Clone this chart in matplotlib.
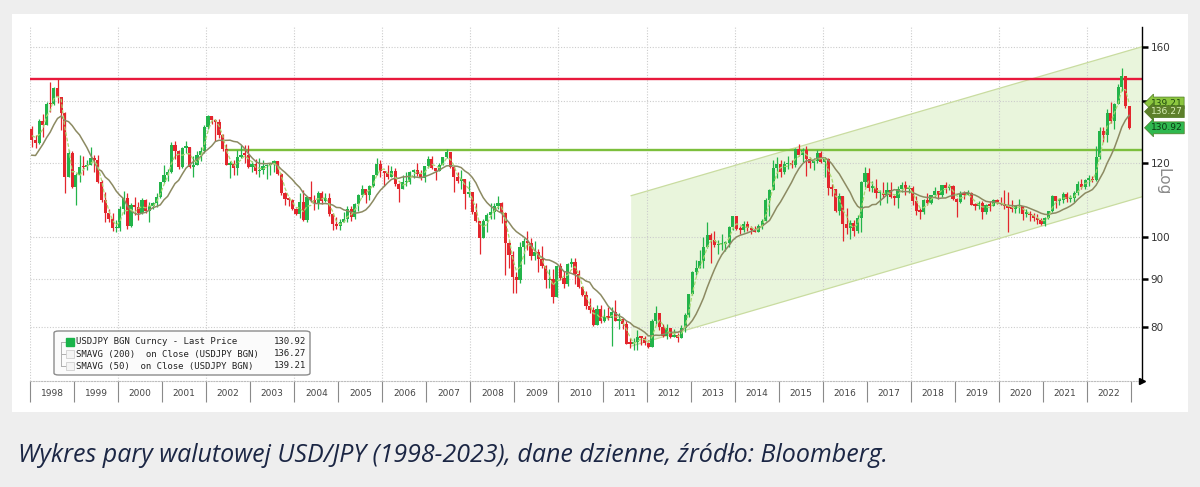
import numpy as np
import pandas as pd
import matplotlib
matplotlib.use("Agg")
import matplotlib.pyplot as plt
import matplotlib.transforms as mtransforms
from matplotlib.patches import Rectangle, FancyBboxPatch, Polygon
from matplotlib.ticker import FixedLocator, NullLocator, NullFormatter

# USD/JPY monthly candles Jan 1998 - Dec 2022
# Apr-Dec 1997 closes only warm up the moving averages
closes_1997 = [126.9, 116.4, 114.6, 118.4, 121.0, 120.5, 120.5, 127.6, 130.6]

closes = [
    127.0, 126.0, 133.3, 132.0, 138.9, 138.8, 144.5, 141.2, 135.7, 116.0, 123.1, 113.1,  # 1998
    116.4, 118.9, 118.8, 119.4, 121.5, 121.0, 114.6, 109.5, 106.0, 104.4, 102.1, 102.2,  # 1999
    107.2, 110.2, 102.7, 108.1, 107.6, 106.1, 109.5, 106.6, 107.9, 108.8, 110.4, 114.4,  # 2000
    116.4, 117.4, 125.5, 123.6, 118.8, 124.6, 124.9, 118.9, 119.4, 122.3, 123.6, 131.1,  # 2001
    134.7, 133.5, 132.7, 128.5, 124.2, 119.4, 119.8, 118.4, 121.9, 122.5, 122.4, 118.8,  # 2002
    119.8, 117.6, 118.1, 119.0, 119.5, 119.8, 120.5, 116.8, 111.5, 109.9, 109.6, 107.2,  # 2003
    105.8, 109.0, 104.2, 110.4, 109.5, 108.8, 111.3, 109.3, 110.2, 105.8, 103.1, 102.6,  # 2004
    103.6, 104.6, 107.2, 105.0, 108.5, 110.8, 112.5, 111.0, 113.4, 116.4, 119.8, 117.8,  # 2005
    117.2, 115.8, 117.8, 114.0, 112.6, 114.4, 114.6, 117.3, 118.1, 116.9, 115.7, 119.0,  # 2006
    121.3, 118.5, 117.8, 119.5, 121.7, 123.2, 118.7, 115.8, 114.8, 115.3, 111.2, 111.7,  # 2007
    106.4, 103.9, 99.7, 104.0, 105.5, 106.2, 108.0, 108.8, 106.0, 98.5, 95.5, 90.6,      # 2008
    89.9, 97.6, 98.9, 98.5, 95.3, 96.4, 94.7, 93.0, 89.8, 90.0, 86.2, 93.0,              # 2009
    90.3, 89.0, 93.5, 94.0, 91.2, 88.4, 86.5, 84.2, 83.5, 80.4, 83.7, 81.1,              # 2010
    82.0, 81.8, 83.1, 81.2, 81.5, 80.5, 76.8, 76.7, 77.0, 78.0, 77.9, 76.9,              # 2011
    76.2, 81.2, 82.9, 80.0, 78.3, 79.8, 78.1, 78.4, 77.9, 79.8, 82.5, 86.7,              # 2012
    91.7, 92.6, 94.2, 97.4, 100.4, 99.1, 97.9, 98.2, 98.3, 98.4, 102.4, 105.3,           # 2013
    102.0, 101.8, 103.2, 102.2, 101.8, 101.3, 102.8, 104.1, 109.6, 112.3, 118.6, 119.8,  # 2014
    117.5, 119.6, 120.1, 119.4, 124.1, 122.4, 123.9, 121.2, 119.9, 120.6, 123.1, 120.2,  # 2015
    121.1, 112.7, 112.6, 106.5, 110.7, 103.2, 102.1, 103.4, 101.4, 104.8, 114.5, 117.0,  # 2016
    112.8, 112.8, 111.4, 111.5, 110.8, 112.4, 110.3, 110.2, 112.5, 113.7, 112.5, 112.7,  # 2017
    109.2, 106.7, 106.3, 109.4, 108.8, 110.8, 111.9, 111.0, 113.7, 112.9, 113.5, 109.7,  # 2018
    108.9, 111.4, 110.9, 111.4, 108.3, 107.9, 108.7, 106.3, 108.1, 108.0, 109.5, 108.6,  # 2019
    108.4, 107.9, 107.5, 107.2, 107.8, 107.9, 105.8, 105.9, 105.5, 104.7, 104.3, 103.3,  # 2020
    104.7, 106.6, 110.7, 109.3, 109.6, 111.1, 109.7, 110.0, 111.3, 113.9, 113.2, 115.1,  # 2021
    115.1, 115.0, 121.7, 129.8, 128.7, 135.7, 133.3, 138.9, 144.7, 148.7, 138.1, 130.92, # 2022
]

highs = [
    131.5, 128.5, 133.9, 135.5, 139.5, 146.8, 144.9, 147.6, 139.6, 136.2, 123.8, 123.6,
    117.0, 122.5, 122.2, 120.8, 124.8, 122.5, 122.3, 115.2, 111.6, 107.0, 106.0, 104.3,
    107.9, 112.1, 111.3, 108.7, 110.4, 108.9, 110.1, 109.8, 109.0, 109.0, 111.4, 114.6,
    119.4, 118.2, 126.5, 126.8, 124.0, 124.8, 126.8, 124.9, 122.2, 123.7, 124.8, 131.7,
    135.2, 134.5, 133.8, 133.9, 128.9, 125.9, 120.5, 121.0, 124.0, 125.6, 125.5, 125.4,
    120.7, 121.3, 121.4, 120.9, 119.6, 119.9, 120.9, 120.7, 117.1, 111.7, 110.4, 109.9,
    107.3, 111.4, 112.2, 110.6, 114.9, 111.0, 111.9, 112.1, 111.3, 111.5, 106.0, 105.0,
    104.5, 106.2, 107.9, 108.0, 108.8, 111.2, 113.7, 112.1, 113.7, 116.6, 121.4, 121.0,
    117.8, 119.4, 119.0, 118.5, 114.2, 116.5, 117.3, 117.7, 118.3, 119.9, 118.1, 119.2,
    122.2, 122.2, 118.4, 120.1, 121.9, 124.1, 123.0, 119.0, 117.3, 117.9, 115.4, 114.7,
    109.7, 108.6, 103.6, 104.6, 106.0, 108.6, 108.6, 110.7, 109.0, 106.4, 99.2, 96.6,
    91.7, 98.6, 99.7, 101.4, 99.6, 98.9, 97.0, 97.8, 93.3, 92.3, 92.3, 93.1,
    93.8, 91.9, 93.8, 94.8, 94.9, 92.1, 88.6, 87.4, 85.9, 84.1, 84.4, 84.4,
    83.7, 84.0, 84.0, 85.5, 82.9, 81.6, 81.2, 77.9, 77.9, 79.5, 78.3, 78.3,
    77.4, 81.5, 84.2, 81.8, 80.6, 80.6, 79.7, 79.7, 78.9, 80.3, 82.8, 86.6,
    91.8, 94.5, 96.7, 99.9, 103.7, 101.0, 101.5, 99.1, 100.6, 99.0, 102.6, 105.4,
    105.4, 102.8, 104.0, 104.1, 102.8, 102.7, 103.1, 104.5, 110.1, 112.5, 121.0, 121.8,
    120.8, 120.5, 122.0, 120.8, 124.4, 125.9, 124.6, 125.3, 121.8, 121.5, 123.8, 123.6,
    121.7, 121.5, 114.0, 112.1, 111.5, 110.0, 107.5, 104.3, 104.2, 105.5, 114.8, 118.7,
    118.6, 114.9, 115.5, 112.2, 114.4, 114.5, 114.5, 110.9, 113.3, 114.5, 114.7, 113.8,
    113.4, 110.5, 107.3, 109.9, 111.4, 111.0, 113.2, 111.8, 113.8, 114.6, 114.0, 113.8,
    110.0, 111.9, 112.1, 112.4, 111.7, 108.8, 109.3, 109.3, 108.5, 109.3, 109.7, 109.7,
    110.3, 112.2, 111.7, 109.4, 108.1, 109.9, 107.8, 107.0, 106.6, 106.1, 105.7, 104.8,
    104.9, 106.7, 110.9, 110.0, 110.2, 111.7, 111.7, 110.8, 112.1, 114.7, 115.5, 115.5,
    116.4, 116.3, 125.1, 131.3, 131.3, 137.0, 139.4, 139.1, 145.9, 151.9, 148.8, 138.2,
]

lows = [
    124.8, 124.5, 125.8, 128.0, 132.5, 136.0, 138.5, 139.3, 130.3, 111.5, 115.8, 112.9,
    108.2, 114.5, 116.4, 118.0, 119.6, 117.3, 114.3, 109.1, 103.7, 103.6, 101.5, 101.3,
    101.5, 105.8, 102.0, 102.5, 105.5, 104.3, 105.8, 106.0, 103.7, 107.2, 107.7, 110.2,
    114.3, 114.9, 117.2, 121.2, 118.3, 118.4, 123.0, 118.5, 115.8, 119.4, 120.5, 123.0,
    130.6, 132.1, 126.8, 127.6, 123.6, 119.4, 115.6, 116.6, 116.4, 121.6, 119.9, 118.6,
    117.5, 116.7, 115.8, 116.9, 115.4, 116.5, 117.3, 116.6, 110.8, 108.1, 107.9, 106.8,
    105.6, 104.7, 103.9, 103.8, 108.9, 106.8, 107.2, 108.4, 108.9, 105.2, 101.8, 102.0,
    101.7, 103.6, 103.8, 104.1, 104.5, 106.6, 110.3, 108.8, 109.6, 113.2, 116.4, 115.8,
    113.4, 115.3, 115.8, 113.4, 108.9, 112.5, 113.4, 114.0, 115.7, 116.1, 115.0, 114.5,
    118.5, 118.3, 115.2, 117.6, 119.3, 121.4, 118.6, 111.6, 114.1, 112.6, 107.2, 110.4,
    105.8, 103.6, 95.8, 99.6, 101.2, 104.4, 104.4, 107.2, 103.5, 90.9, 92.5, 87.1,
    87.1, 89.3, 93.5, 96.7, 94.4, 94.5, 91.7, 92.5, 88.2, 88.1, 84.8, 86.3,
    89.8, 88.2, 88.5, 92.7, 89.0, 88.1, 86.3, 83.6, 82.9, 80.2, 80.3, 80.8,
    81.0, 81.4, 76.3, 81.2, 79.6, 79.7, 76.8, 75.9, 75.6, 75.6, 76.5, 76.6,
    76.0, 76.1, 80.6, 79.5, 78.0, 77.7, 77.9, 78.0, 77.1, 77.8, 79.1, 82.0,
    86.6, 90.9, 92.6, 92.6, 97.3, 93.8, 97.6, 95.8, 96.9, 96.6, 97.6, 101.6,
    101.8, 100.8, 101.2, 101.4, 100.8, 101.1, 101.1, 102.0, 104.2, 105.2, 112.3, 115.6,
    115.9, 116.9, 118.3, 118.5, 118.9, 122.0, 120.4, 116.2, 118.6, 118.1, 120.1, 119.9,
    115.9, 110.9, 110.7, 106.3, 105.6, 99.0, 100.7, 99.5, 100.1, 100.9, 101.2, 113.2,
    112.1, 111.7, 110.1, 108.1, 110.2, 108.8, 110.0, 108.3, 107.3, 111.7, 110.8, 111.4,
    108.3, 105.6, 104.6, 105.9, 108.1, 108.5, 110.3, 109.8, 110.4, 111.4, 112.3, 109.6,
    104.9, 108.7, 109.7, 110.8, 108.3, 106.8, 107.2, 104.5, 105.7, 106.5, 107.9, 108.4,
    108.3, 107.0, 101.2, 106.4, 106.0, 106.1, 104.2, 105.1, 104.0, 104.0, 103.2, 102.9,
    102.7, 104.4, 106.4, 107.5, 108.3, 108.6, 109.1, 109.1, 109.1, 110.8, 112.5, 112.6,
    113.5, 114.4, 114.7, 121.3, 126.4, 126.4, 132.5, 130.4, 138.8, 143.5, 137.5, 130.6,
]

legend_names = ["USDJPY BGN Curncy - Last Price",
                "SMAVG (200)  on Close (USDJPY BGN)",
                "SMAVG (50)  on Close (USDJPY BGN)"]
legend_values = ["130.92", "136.27", "139.21"]
tag_values = [139.21, 136.27, 130.92]

years = list(range(1998, 2023))
y_ticks = [80, 90, 100, 120, 140, 160]
y_tick_labels = ["80", "90", "100", "120", "", "160"]

resistance = 147.8
support = 124.0
support_start = 2002.43
channel_x = [2011.65, 2023.25]
channel_top = [110.7, 160.0]
channel_bottom = [76.3, 110.4]

caption = "Wykres pary walutowej USD/JPY (1998-2023), dane dzienne, źródło: Bloomberg."

RED = "#e3262d"
GREEN = "#23b44a"

W, H = 1200, 487


def fx(px):
    return px / W


def fy(py):
    return 1 - py / H


fig = plt.figure(figsize=(12, 4.87), dpi=100)
fig.patch.set_facecolor("#eeeeee")
panel = Rectangle((fx(12), fy(412)), fx(1188) - fx(12), fy(14) - fy(412),
                  transform=fig.transFigure, fc="white", ec="none", zorder=-10)
fig.add_artist(panel)

ax = fig.add_axes([fx(30), fy(381), fx(1142) - fx(30), fy(27) - fy(381)])
ax.set_facecolor("white")
ax.set_yscale("log")
ax.set_xlim(1998.0, 2023.25)
ax.set_ylim(70, 168)

# grid
for v in y_ticks:
    ax.axhline(v, color="#cccccc", lw=0.8, ls=(0, (1, 1.5)), zorder=1)
for yr in range(1998, 2023, 2):
    ax.axvline(yr, color="#cccccc", lw=0.8, ls=(0, (1, 1.5)), zorder=1)

# trend channel
poly = Polygon([(channel_x[0], channel_top[0]), (channel_x[1], channel_top[1]),
                (channel_x[1], channel_bottom[1]), (channel_x[0], channel_bottom[0])],
               closed=True, fc="#e6f4d6", ec="none", alpha=0.85, zorder=0.5)
ax.add_patch(poly)
ax.plot(channel_x, channel_top, color="#c9dca0", lw=0.9, zorder=1.5)
ax.plot(channel_x, channel_bottom, color="#c9dca0", lw=0.9, zorder=1.5)

# levels
ax.axhline(resistance, color="#e8193c", lw=1.7, zorder=2)
ax.hlines(support, support_start, 2023.25, color="#7cbf3c", lw=1.7, zorder=2)

# candles
c = np.array(closes)
o = np.r_[closes_1997[-1], c[:-1]]
h = np.maximum(np.array(highs), np.maximum(o, c))
l = np.minimum(np.array(lows), np.minimum(o, c))
x = 1998 + (np.arange(len(c)) + 0.5) / 12
cols = np.where(c >= o, GREEN, RED)
ax.vlines(x, l, h, colors=cols, lw=0.9, zorder=3)
lo = np.minimum(o, c)
hi = np.maximum(np.maximum(o, c), lo * 1.004)
ax.bar(x, hi - lo, bottom=lo, width=0.072, color=cols, linewidth=0, zorder=3)

# moving averages
full = pd.Series(closes_1997 + closes)
sma200 = full.rolling(10, min_periods=1).mean().iloc[len(closes_1997):].values
sma50 = full.rolling(3, min_periods=1).mean().iloc[len(closes_1997):].values
ax.plot(x, sma200, color="#8c8a62", lw=1.1, zorder=4)
ax.plot(x, sma50, color="#a9d872", lw=0.9, ls=(0, (3, 1.5)), zorder=4)

# axes styling
for s in ["left", "top"]:
    ax.spines[s].set_visible(False)
ax.spines["right"].set_color("black")
ax.spines["right"].set_linewidth(1.0)
ax.spines["bottom"].set_color("#bdbdbd")
ax.spines["bottom"].set_linestyle((0, (1, 1.5)))
ax.plot([1], [0], marker=">", color="black", ms=4, transform=ax.transAxes,
        clip_on=False, zorder=6)

ax.yaxis.tick_right()
ax.yaxis.set_major_locator(FixedLocator(y_ticks))
ax.yaxis.set_minor_locator(NullLocator())
ax.yaxis.set_minor_formatter(NullFormatter())
ax.set_yticklabels(y_tick_labels)
ax.tick_params(axis="y", which="major", direction="out", length=4, width=1.8,
               color="black", labelsize=7.5, labelcolor="#333333", pad=2)

ax.xaxis.set_major_locator(FixedLocator(list(range(1998, 2024))))
ax.xaxis.set_minor_locator(FixedLocator([yr + 0.5 for yr in years]))
ax.xaxis.set_major_formatter(NullFormatter())
ax.set_xticklabels([str(yr) for yr in years], minor=True)
ax.tick_params(axis="x", which="major", direction="out", length=15, width=0.8,
               color="#8a8a8a")
ax.tick_params(axis="x", which="minor", length=0, labelsize=6.5,
               labelcolor="#444444", pad=6)

# price tags on the right axis
trans = mtransforms.blended_transform_factory(ax.transAxes, ax.transData)
tag_styles = [("#8cc63f", "#1f4a10"), ("#5d7f2a", "#d8efb8"), ("#2fb84f", "#0b3a12")]
for val, (fc, tc) in zip(tag_values, tag_styles):
    ax.text(1.008, val, f"{val:.2f}", transform=trans, fontsize=6.6, color=tc,
            ha="left", va="center", zorder=7, clip_on=False,
            bbox=dict(boxstyle="larrow,pad=0.16", fc=fc, ec="#4e7a22", lw=0.5))

fig.text(fx(1163), fy(182), "Log", rotation=270, fontsize=11, color="#8a8a8a",
         ha="center", va="center")

# legend box
box = FancyBboxPatch((fx(54), fy(375)), fx(310) - fx(54), fy(331) - fy(375),
                     boxstyle="round,pad=0,rounding_size=0.004",
                     transform=fig.transFigure, fc="#fbfbfb", ec="#8c8c8c",
                     lw=1.0, zorder=8)
fig.add_artist(box)
row_y = [342, 354, 366]
fig.add_artist(plt.Line2D([fx(61), fx(61)], [fy(343), fy(366)], color="#b0b0b0",
                          lw=0.7, transform=fig.transFigure, zorder=9))
for i, (name, val) in enumerate(zip(legend_names, legend_values)):
    yy = row_y[i]
    fig.add_artist(plt.Line2D([fx(61), fx(66)], [fy(yy), fy(yy)], color="#b0b0b0",
                              lw=0.7, transform=fig.transFigure, zorder=9))
    if i == 0:
        sq = Rectangle((fx(66), fy(yy + 4)), fx(8), fy(0) - fy(8),
                       transform=fig.transFigure, fc="#19b34a", ec="#19b34a", zorder=9)
    else:
        sq = Rectangle((fx(66), fy(yy + 4)), fx(8), fy(0) - fy(8),
                       transform=fig.transFigure, fc="#f4f4f4", ec="#cfcfcf",
                       lw=0.6, zorder=9)
    fig.add_artist(sq)
    fig.text(fx(76), fy(yy), name, fontsize=6.5, family="DejaVu Sans Mono",
             color="#222222", ha="left", va="center", zorder=10)
    fig.text(fx(306), fy(yy), val, fontsize=6.5, family="DejaVu Sans Mono",
             color="#222222", ha="right", va="center", zorder=10)

fig.text(fx(18), fy(455), caption, fontsize=18, style="italic",
         family="Open Sans", color="#1b2644", ha="left", va="center")

fig.savefig("out.png", dpi=100, facecolor=fig.get_facecolor())
